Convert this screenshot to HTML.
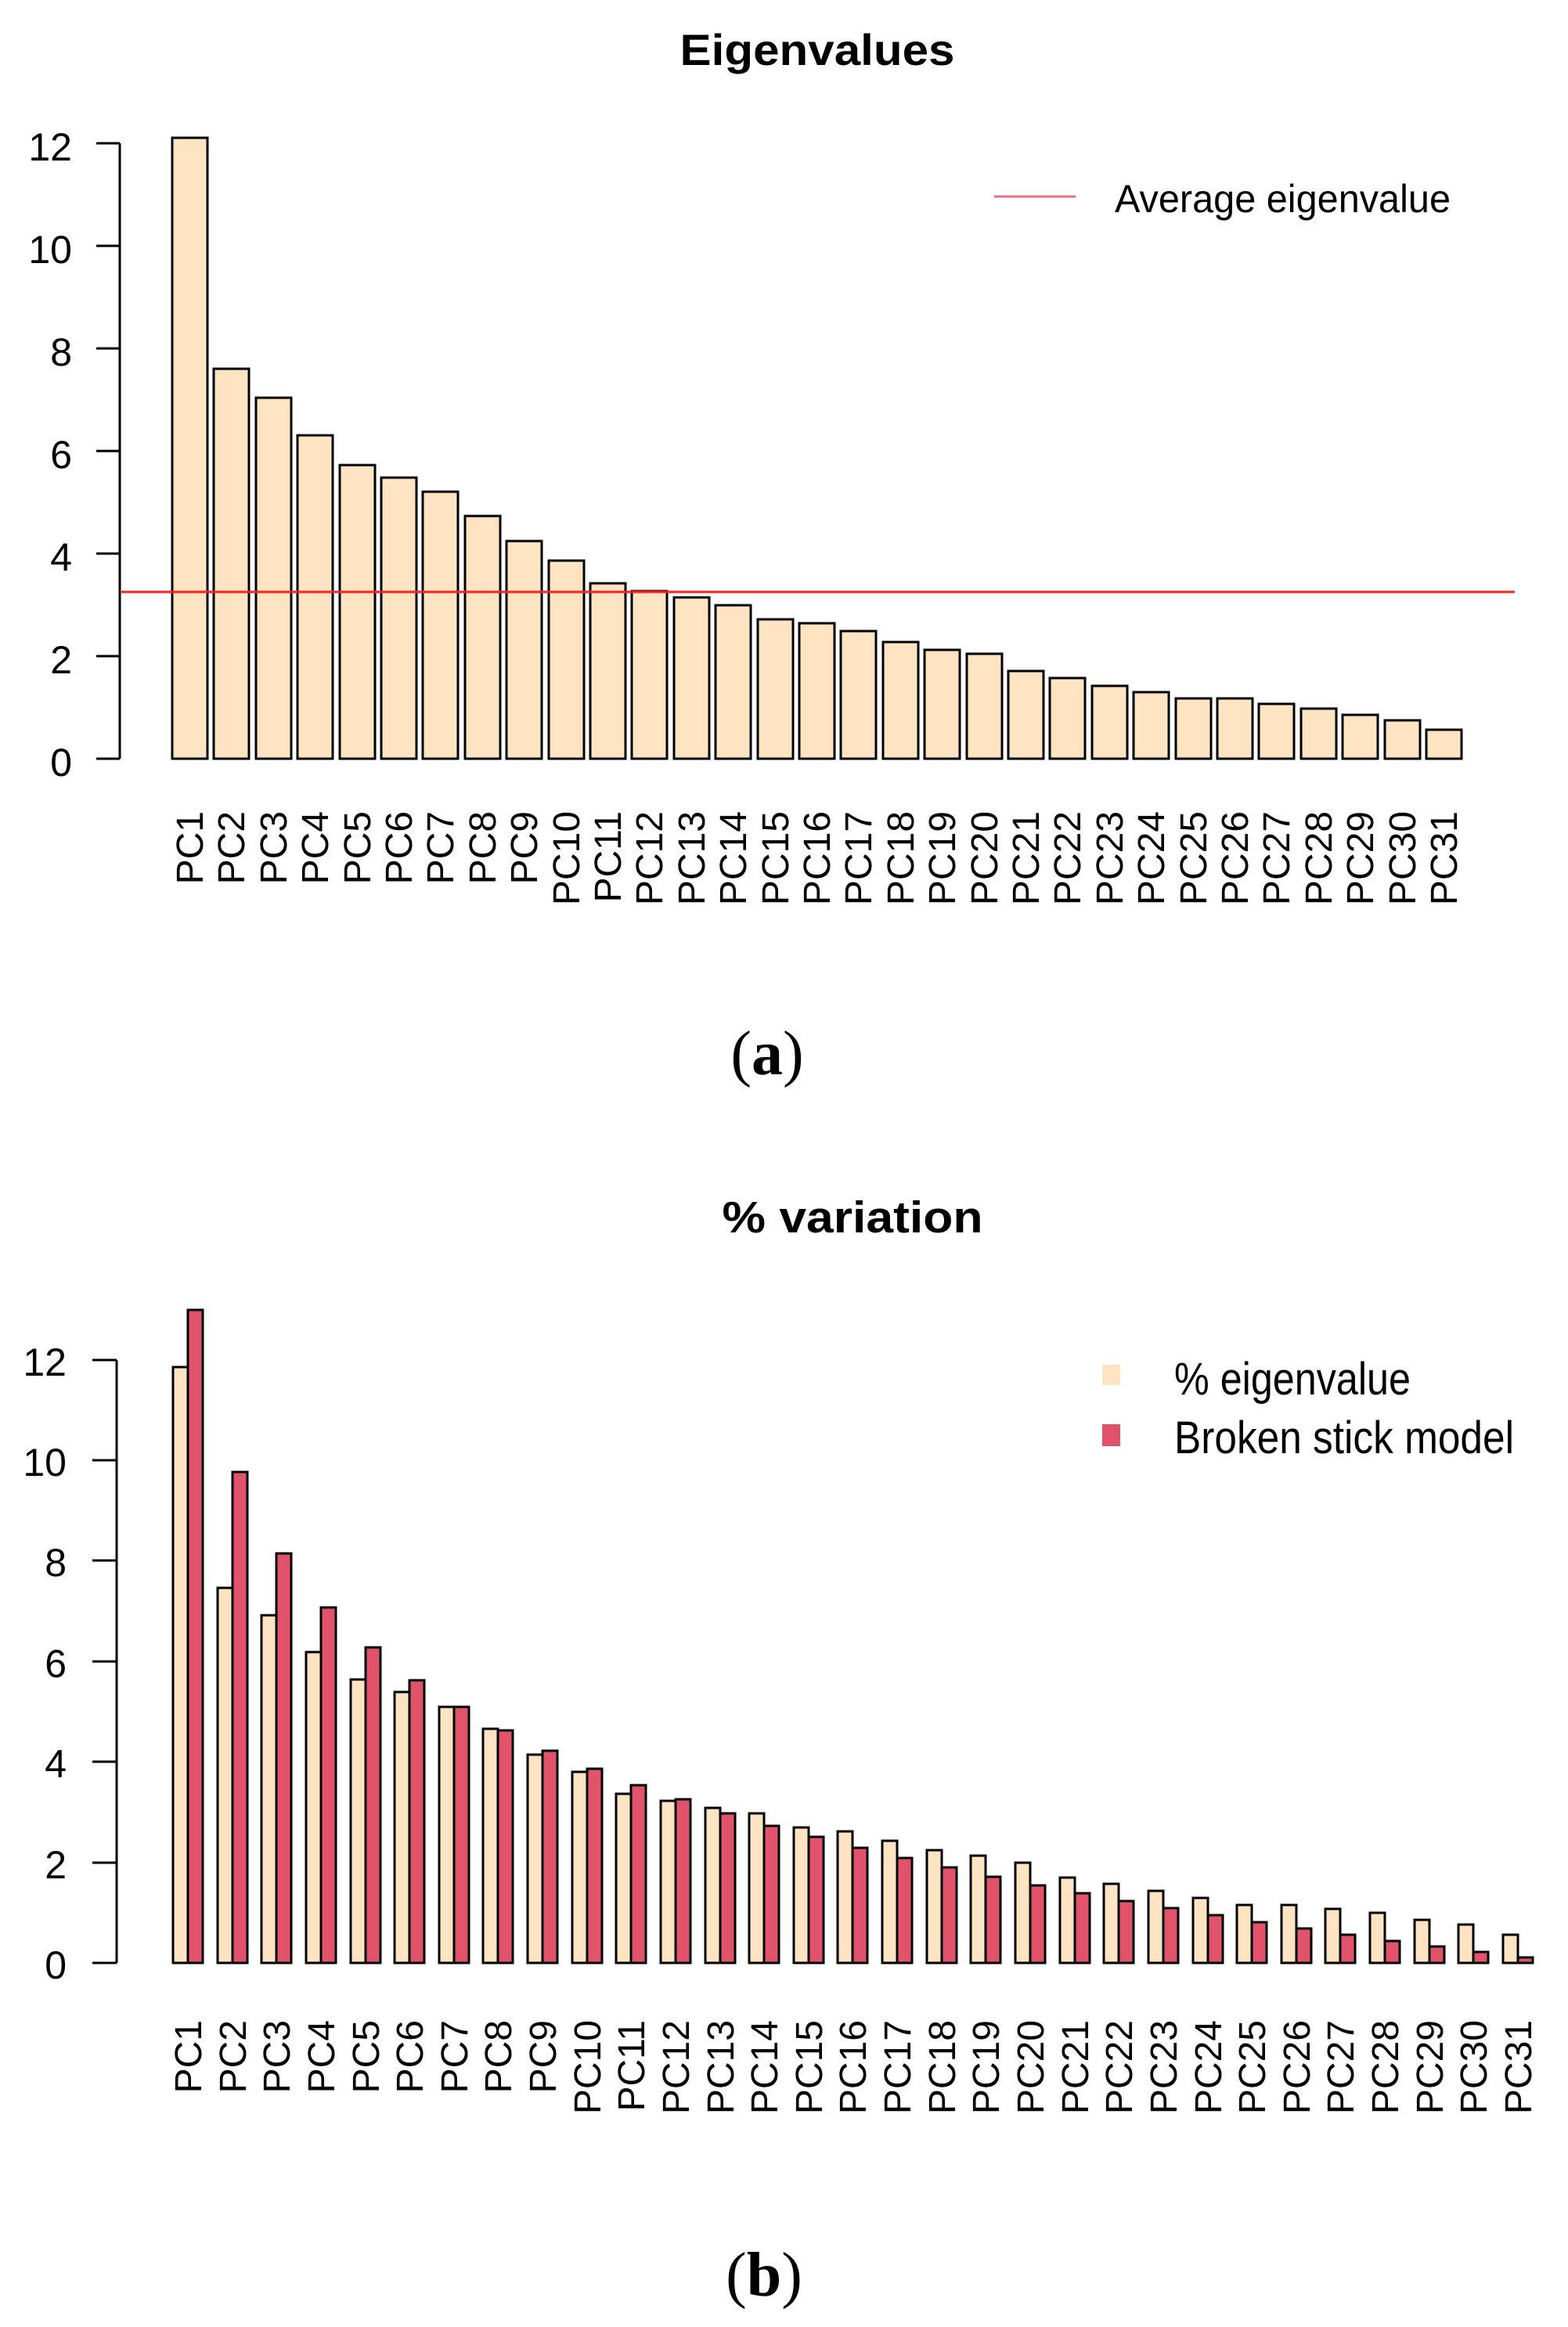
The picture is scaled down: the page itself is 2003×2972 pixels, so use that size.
<!DOCTYPE html>
<html><head><meta charset="utf-8"><style>
html,body{margin:0;padding:0;background:#fff}
svg{display:block}
text{font-family:"Liberation Sans",Arial,sans-serif;fill:#000}
.bar{stroke:#000;stroke-width:3}
.b{fill:#ffe4c4}.r{fill:#e0536b}
.tk{font-size:50px;text-anchor:end}
.xl{font-size:48px;text-anchor:end}
</style></head><body>
<svg width="2003" height="2972" viewBox="0 0 2003 2972" xmlns="http://www.w3.org/2000/svg">
<rect width="2003" height="2972" fill="#fff"/>
<!-- Chart A -->
<text x="1044" y="83" font-size="56" font-weight="bold" text-anchor="middle" textLength="351" lengthAdjust="spacingAndGlyphs">Eigenvalues</text>
<g fill="none" stroke="#000" stroke-width="3">
<path d="M153 183V969M123 183H153M123 314H153M123 445H153M123 576H153M123 707H153M123 838H153M123 969H153"/>
</g>
<g class="tk">
<text x="92" y="205">12</text><text x="92" y="336">10</text><text x="92" y="467">8</text><text x="92" y="598">6</text><text x="92" y="729">4</text><text x="92" y="860">2</text><text x="92" y="991">0</text>
</g>
<g class="bar b">
<rect x="220" y="176" width="45" height="793"/>
<rect x="273" y="471" width="45" height="498"/>
<rect x="327" y="508" width="45" height="461"/>
<rect x="380" y="556" width="45" height="413"/>
<rect x="434" y="594" width="45" height="375"/>
<rect x="487" y="610" width="45" height="359"/>
<rect x="540" y="628" width="45" height="341"/>
<rect x="594" y="659" width="45" height="310"/>
<rect x="647" y="691" width="45" height="278"/>
<rect x="701" y="716" width="45" height="253"/>
<rect x="754" y="745" width="45" height="224"/>
<rect x="807" y="755" width="45" height="214"/>
<rect x="861" y="763" width="45" height="206"/>
<rect x="914" y="773" width="45" height="196"/>
<rect x="968" y="791" width="45" height="178"/>
<rect x="1021" y="796" width="45" height="173"/>
<rect x="1074" y="806" width="45" height="163"/>
<rect x="1128" y="820" width="45" height="149"/>
<rect x="1181" y="830" width="45" height="139"/>
<rect x="1235" y="835" width="45" height="134"/>
<rect x="1288" y="857" width="45" height="112"/>
<rect x="1341" y="866" width="45" height="103"/>
<rect x="1395" y="876" width="45" height="93"/>
<rect x="1448" y="884" width="45" height="85"/>
<rect x="1502" y="892" width="45" height="77"/>
<rect x="1555" y="892" width="45" height="77"/>
<rect x="1608" y="899" width="45" height="70"/>
<rect x="1662" y="905" width="45" height="64"/>
<rect x="1715" y="913" width="45" height="56"/>
<rect x="1769" y="920" width="45" height="49"/>
<rect x="1822" y="932" width="45" height="37"/>
</g>
<line x1="155" y1="756" x2="1935" y2="756" stroke="#ff2020" stroke-width="3"/>
<line x1="1270" y1="251" x2="1374" y2="251" stroke="#e87080" stroke-width="3"/>
<text x="1424" y="271" font-size="50" textLength="429" lengthAdjust="spacingAndGlyphs">Average eigenvalue</text>
<g class="xl">
<text transform="translate(259,1036) rotate(-90)">PC1</text>
<text transform="translate(312,1036) rotate(-90)">PC2</text>
<text transform="translate(366,1036) rotate(-90)">PC3</text>
<text transform="translate(419,1036) rotate(-90)">PC4</text>
<text transform="translate(473,1036) rotate(-90)">PC5</text>
<text transform="translate(526,1036) rotate(-90)">PC6</text>
<text transform="translate(579,1036) rotate(-90)">PC7</text>
<text transform="translate(633,1036) rotate(-90)">PC8</text>
<text transform="translate(686,1036) rotate(-90)">PC9</text>
<text transform="translate(740,1036) rotate(-90)">PC10</text>
<text transform="translate(793,1036) rotate(-90)">PC11</text>
<text transform="translate(846,1036) rotate(-90)">PC12</text>
<text transform="translate(900,1036) rotate(-90)">PC13</text>
<text transform="translate(953,1036) rotate(-90)">PC14</text>
<text transform="translate(1007,1036) rotate(-90)">PC15</text>
<text transform="translate(1060,1036) rotate(-90)">PC16</text>
<text transform="translate(1113,1036) rotate(-90)">PC17</text>
<text transform="translate(1167,1036) rotate(-90)">PC18</text>
<text transform="translate(1220,1036) rotate(-90)">PC19</text>
<text transform="translate(1274,1036) rotate(-90)">PC20</text>
<text transform="translate(1327,1036) rotate(-90)">PC21</text>
<text transform="translate(1380,1036) rotate(-90)">PC22</text>
<text transform="translate(1434,1036) rotate(-90)">PC23</text>
<text transform="translate(1487,1036) rotate(-90)">PC24</text>
<text transform="translate(1541,1036) rotate(-90)">PC25</text>
<text transform="translate(1594,1036) rotate(-90)">PC26</text>
<text transform="translate(1647,1036) rotate(-90)">PC27</text>
<text transform="translate(1701,1036) rotate(-90)">PC28</text>
<text transform="translate(1754,1036) rotate(-90)">PC29</text>
<text transform="translate(1808,1036) rotate(-90)">PC30</text>
<text transform="translate(1861,1036) rotate(-90)">PC31</text>
</g>
<text x="980" y="1372" font-size="80" text-anchor="middle" style="font-family:'Liberation Serif',serif">(<tspan font-weight="bold">a</tspan>)</text>

<!-- Chart B -->
<text x="1089" y="1574" font-size="57" font-weight="bold" text-anchor="middle" textLength="333" lengthAdjust="spacingAndGlyphs">% variation</text>
<g fill="none" stroke="#000" stroke-width="3">
<path d="M149 1737V2507M118 1737H149M118 1865H149M118 1993H149M118 2122H149M118 2250H149M118 2379H149M118 2507H149"/>
</g>
<g class="tk">
<text x="85" y="1757">12</text><text x="85" y="1885">10</text><text x="85" y="2013">8</text><text x="85" y="2142">6</text><text x="85" y="2270">4</text><text x="85" y="2399">2</text><text x="85" y="2527">0</text>
</g>
<g class="bar b">
<rect x="221" y="1746" width="19" height="761"/>
<rect x="278" y="2028" width="19" height="479"/>
<rect x="334" y="2063" width="19" height="444"/>
<rect x="391" y="2110" width="19" height="397"/>
<rect x="448" y="2145" width="19" height="362"/>
<rect x="504" y="2161" width="19" height="346"/>
<rect x="561" y="2180" width="19" height="327"/>
<rect x="617" y="2208" width="19" height="299"/>
<rect x="674" y="2241" width="19" height="266"/>
<rect x="731" y="2263" width="19" height="244"/>
<rect x="787" y="2291" width="19" height="216"/>
<rect x="844" y="2300" width="19" height="207"/>
<rect x="901" y="2309" width="19" height="198"/>
<rect x="957" y="2316" width="19" height="191"/>
<rect x="1014" y="2334" width="19" height="173"/>
<rect x="1070" y="2339" width="19" height="168"/>
<rect x="1127" y="2351" width="19" height="156"/>
<rect x="1184" y="2363" width="19" height="144"/>
<rect x="1240" y="2370" width="19" height="137"/>
<rect x="1297" y="2379" width="19" height="128"/>
<rect x="1354" y="2398" width="19" height="109"/>
<rect x="1410" y="2406" width="19" height="101"/>
<rect x="1467" y="2415" width="19" height="92"/>
<rect x="1524" y="2424" width="19" height="83"/>
<rect x="1580" y="2433" width="19" height="74"/>
<rect x="1637" y="2433" width="19" height="74"/>
<rect x="1693" y="2438" width="19" height="69"/>
<rect x="1750" y="2443" width="19" height="64"/>
<rect x="1807" y="2452" width="19" height="55"/>
<rect x="1863" y="2458" width="19" height="49"/>
<rect x="1920" y="2471" width="19" height="36"/>
</g>
<g class="bar r">
<rect x="240" y="1673" width="19" height="834"/>
<rect x="297" y="1880" width="19" height="627"/>
<rect x="353" y="1984" width="19" height="523"/>
<rect x="410" y="2053" width="19" height="454"/>
<rect x="467" y="2104" width="19" height="403"/>
<rect x="523" y="2146" width="19" height="361"/>
<rect x="580" y="2180" width="19" height="327"/>
<rect x="636" y="2210" width="19" height="297"/>
<rect x="693" y="2236" width="19" height="271"/>
<rect x="750" y="2259" width="19" height="248"/>
<rect x="806" y="2280" width="19" height="227"/>
<rect x="863" y="2298" width="19" height="209"/>
<rect x="920" y="2316" width="19" height="191"/>
<rect x="976" y="2332" width="19" height="175"/>
<rect x="1033" y="2346" width="19" height="161"/>
<rect x="1089" y="2360" width="19" height="147"/>
<rect x="1146" y="2373" width="19" height="134"/>
<rect x="1203" y="2385" width="19" height="122"/>
<rect x="1259" y="2397" width="19" height="110"/>
<rect x="1316" y="2408" width="19" height="99"/>
<rect x="1373" y="2418" width="19" height="89"/>
<rect x="1429" y="2428" width="19" height="79"/>
<rect x="1486" y="2437" width="19" height="70"/>
<rect x="1543" y="2446" width="19" height="61"/>
<rect x="1599" y="2455" width="19" height="52"/>
<rect x="1656" y="2463" width="19" height="44"/>
<rect x="1712" y="2471" width="19" height="36"/>
<rect x="1769" y="2479" width="19" height="28"/>
<rect x="1826" y="2486" width="19" height="21"/>
<rect x="1882" y="2493" width="19" height="14"/>
<rect x="1939" y="2500" width="19" height="7"/>
</g>
<rect x="1408" y="1743" width="23" height="26" fill="#ffe4c4"/>
<rect x="1408" y="1819" width="23" height="28" fill="#e0536b"/>
<text x="1500" y="1781" font-size="58" textLength="302" lengthAdjust="spacingAndGlyphs">% eigenvalue</text>
<text x="1500" y="1856" font-size="58" textLength="434" lengthAdjust="spacingAndGlyphs">Broken stick model</text>
<g class="xl">
<text transform="translate(257,2580) rotate(-90)">PC1</text>
<text transform="translate(314,2580) rotate(-90)">PC2</text>
<text transform="translate(370,2580) rotate(-90)">PC3</text>
<text transform="translate(427,2580) rotate(-90)">PC4</text>
<text transform="translate(484,2580) rotate(-90)">PC5</text>
<text transform="translate(540,2580) rotate(-90)">PC6</text>
<text transform="translate(597,2580) rotate(-90)">PC7</text>
<text transform="translate(653,2580) rotate(-90)">PC8</text>
<text transform="translate(710,2580) rotate(-90)">PC9</text>
<text transform="translate(767,2580) rotate(-90)">PC10</text>
<text transform="translate(823,2580) rotate(-90)">PC11</text>
<text transform="translate(880,2580) rotate(-90)">PC12</text>
<text transform="translate(937,2580) rotate(-90)">PC13</text>
<text transform="translate(993,2580) rotate(-90)">PC14</text>
<text transform="translate(1050,2580) rotate(-90)">PC15</text>
<text transform="translate(1106,2580) rotate(-90)">PC16</text>
<text transform="translate(1163,2580) rotate(-90)">PC17</text>
<text transform="translate(1220,2580) rotate(-90)">PC18</text>
<text transform="translate(1276,2580) rotate(-90)">PC19</text>
<text transform="translate(1333,2580) rotate(-90)">PC20</text>
<text transform="translate(1390,2580) rotate(-90)">PC21</text>
<text transform="translate(1446,2580) rotate(-90)">PC22</text>
<text transform="translate(1503,2580) rotate(-90)">PC23</text>
<text transform="translate(1560,2580) rotate(-90)">PC24</text>
<text transform="translate(1616,2580) rotate(-90)">PC25</text>
<text transform="translate(1673,2580) rotate(-90)">PC26</text>
<text transform="translate(1729,2580) rotate(-90)">PC27</text>
<text transform="translate(1786,2580) rotate(-90)">PC28</text>
<text transform="translate(1843,2580) rotate(-90)">PC29</text>
<text transform="translate(1899,2580) rotate(-90)">PC30</text>
<text transform="translate(1956,2580) rotate(-90)">PC31</text>
</g>
<text x="976" y="2932" font-size="80" text-anchor="middle" style="font-family:'Liberation Serif',serif">(<tspan font-weight="bold">b</tspan>)</text>
</svg>
</body></html>
